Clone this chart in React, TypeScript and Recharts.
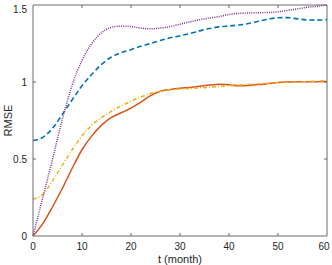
import { Line, LineChart, ReferenceLine, XAxis, YAxis } from 'recharts'

const months = [0, 2, 4, 6, 8, 10, 12, 14, 16, 18, 20, 22, 24, 26, 28, 30, 32, 34, 36, 38, 40, 42, 44, 46, 48, 50, 52, 54, 56, 58, 60]

// four error curves (RMSE vs month)
const rmseBlue = [0.62, 0.64, 0.7, 0.79, 0.885, 0.975, 1.05, 1.115, 1.162, 1.19, 1.21, 1.232, 1.25, 1.27, 1.287, 1.3, 1.315, 1.332, 1.347, 1.358, 1.364, 1.37, 1.38, 1.395, 1.408, 1.417, 1.418, 1.41, 1.403, 1.402, 1.405]
const rmseOrange = [0, 0.08, 0.19, 0.31, 0.44, 0.56, 0.65, 0.72, 0.77, 0.8, 0.83, 0.87, 0.912, 0.94, 0.952, 0.96, 0.965, 0.972, 0.98, 0.985, 0.982, 0.976, 0.978, 0.983, 0.99, 0.997, 1.0, 1.002, 1.002, 1.002, 1.003]
const rmseYellow = [0.24, 0.27, 0.36, 0.46, 0.56, 0.65, 0.72, 0.77, 0.81, 0.845, 0.875, 0.903, 0.925, 0.94, 0.95, 0.955, 0.958, 0.962, 0.966, 0.971, 0.976, 0.98, 0.984, 0.988, 0.992, 0.996, 0.998, 1.0, 1.003, 1.006, 1.01]
const rmsePurple = [0, 0.25, 0.5, 0.76, 0.98, 1.14, 1.25, 1.32, 1.355, 1.363, 1.36, 1.35, 1.345, 1.35, 1.36, 1.375, 1.39, 1.405, 1.415, 1.425, 1.438, 1.445, 1.448, 1.45, 1.451, 1.456, 1.465, 1.475, 1.485, 1.492, 1.5]

const xTicks = [0, 10, 20, 30, 40, 50, 60]
const yTicks = [0, 0.5, 1, 1.5]

const rows = months.map((t, i) => ({
  t,
  blue: rmseBlue[i],
  orange: rmseOrange[i],
  yellow: rmseYellow[i],
  purple: rmsePurple[i],
}))

const TEXT = '#262626'
const BOX = '#6b6b6b'
const FONT = '"Liberation Sans", Arial, Helvetica, sans-serif'

// plot box edges (matlab-style box, ticks mirrored on top/right)
const PLOT_TOP = 5
const PLOT_RIGHT = 327

function BottomTick({ x, y, payload }: any) {
  const inner = payload.value !== 0 && payload.value !== 60
  return (
    <g>
      {inner && <line x1={x} x2={x} y1={y} y2={y - 3} stroke={BOX} />}
      {inner && <line x1={x} x2={x} y1={PLOT_TOP} y2={PLOT_TOP + 3} stroke={BOX} />}
      <text x={x} y={y + 13.5} textAnchor="middle" fontSize={10} fontFamily={FONT} fill={TEXT}>
        {payload.value}
      </text>
    </g>
  )
}

function LeftTick({ x, y, payload }: any) {
  const inner = payload.value !== 0 && payload.value !== 1.5
  return (
    <g>
      {inner && <line x1={x} x2={x + 3} y1={y} y2={y} stroke={BOX} />}
      {inner && <line x1={PLOT_RIGHT} x2={PLOT_RIGHT - 3} y1={y} y2={y} stroke={BOX} />}
      <text x={x - 6} y={y + 3.5} textAnchor="end" fontSize={10} fontFamily={FONT} fill={TEXT}>
        {payload.value}
      </text>
    </g>
  )
}

export default function App() {
  return (
    <div style={{ position: 'absolute', left: 0, top: 0, background: '#fff' }}>
      <LineChart width={332} height={265} data={rows} margin={{ top: PLOT_TOP, right: 332 - PLOT_RIGHT, left: 0, bottom: 0 }}>
        <XAxis
          dataKey="t"
          type="number"
          domain={[0, 60]}
          ticks={xTicks}
          height={29}
          tickSize={0}
          tickMargin={0}
          tickLine={false}
          axisLine={{ stroke: BOX }}
          tick={<BottomTick />}
          label={({ viewBox }: any) => (
            <text
              x={viewBox.x + viewBox.width / 2}
              y={viewBox.y + 27}
              textAnchor="middle"
              fontSize={11}
              fontFamily={FONT}
              fill={TEXT}
            >
              t (month)
            </text>
          )}
        />
        <YAxis
          type="number"
          domain={[0, 1.5]}
          ticks={yTicks}
          width={33}
          tickSize={0}
          tickMargin={0}
          tickLine={false}
          axisLine={{ stroke: BOX }}
          tick={<LeftTick />}
          label={({ viewBox }: any) => {
            const cx = viewBox.x + 8
            const cy = viewBox.y + viewBox.height / 2
            return (
              <text
                x={cx}
                y={cy}
                transform={`rotate(-90, ${cx}, ${cy})`}
                textAnchor="middle"
                dominantBaseline="central"
                fontSize={11}
                fontFamily={FONT}
                fill={TEXT}
              >
                RMSE
              </text>
            )
          }}
        />
        <ReferenceLine y={1.5} stroke={BOX} ifOverflow="visible" />
        <ReferenceLine x={60} stroke={BOX} ifOverflow="visible" />
        <Line type="monotone" dataKey="blue" stroke="#0072BD" strokeWidth={1.6} strokeDasharray="5 3" dot={false} isAnimationActive={false} />
        <Line type="monotone" dataKey="orange" stroke="#D95319" strokeWidth={1.5} dot={false} isAnimationActive={false} />
        <Line type="monotone" dataKey="yellow" stroke="#EDB120" strokeWidth={1.5} strokeDasharray="4 2 1 2" dot={false} isAnimationActive={false} />
        <Line type="monotone" dataKey="purple" stroke="#7E2F8E" strokeWidth={1.5} strokeDasharray="1 1.2" dot={false} isAnimationActive={false} />
      </LineChart>
    </div>
  )
}
